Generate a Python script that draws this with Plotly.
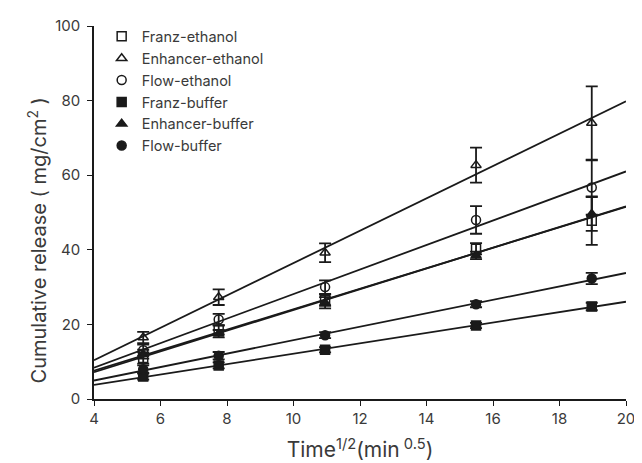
import numpy as np
import plotly.graph_objects as go

# Data
time_sqrt = [5.48, 7.75, 10.95, 15.49, 18.97]

names = ["Franz-ethanol", "Enhancer-ethanol", "Flow-ethanol",
         "Franz-buffer", "Enhancer-buffer", "Flow-buffer"]
symbols = ["square-open", "triangle-up-open", "circle-open",
           "square", "triangle-up", "circle"]

franz_ethanol = [11.0, 18.5, 26.5, 40.3, 47.8]
franz_ethanol_err = [1.5, 1.2, 1.5, 1.5, 6.5]
enhancer_ethanol = [16.5, 27.3, 39.2, 62.7, 74.0]
enhancer_ethanol_err = [1.5, 2.1, 2.5, 4.7, 9.8]
flow_ethanol = [13.1, 21.3, 30.0, 48.0, 56.7]
flow_ethanol_err = [1.5, 1.5, 1.8, 3.7, 7.3]
franz_buffer = [6.0, 9.0, 13.2, 19.7, 24.8]
franz_buffer_err = [0.8, 0.8, 0.7, 0.7, 1.0]
enhancer_buffer = [12.0, 17.5, 25.8, 38.5, 49.6]
enhancer_buffer_err = [1.2, 1.0, 1.5, 1.0, 4.5]
flow_buffer = [8.0, 11.6, 17.1, 25.4, 32.3]
flow_buffer_err = [1.0, 1.0, 0.8, 0.8, 1.5]

series = [franz_ethanol, enhancer_ethanol, flow_ethanol,
          franz_buffer, enhancer_buffer, flow_buffer]
errors = [franz_ethanol_err, enhancer_ethanol_err, flow_ethanol_err,
          franz_buffer_err, enhancer_buffer_err, flow_buffer_err]

x_ticks = [4, 6, 8, 10, 12, 14, 16, 18, 20]
y_ticks = [0, 20, 40, 60, 80, 100]

x_title = "Time<sup>1/2</sup>(min<sup> 0.5</sup>)"
y_title = "Cumulative release ( mg/cm<sup>2</sup> )"

ink = "#1a1a1a"
text_col = "#3a3a3a"
font_family = "Inter, Liberation Sans, Arial, sans-serif"

fig = go.Figure()

line_x = np.array([4.0, 20.0])
for ys in series:
    slope, intercept = np.polyfit(time_sqrt, ys, 1)
    fig.add_trace(go.Scatter(
        x=line_x, y=slope * line_x + intercept, mode="lines",
        line=dict(color=ink, width=1.8), showlegend=False,
        hoverinfo="skip"))

for name, sym, ys, err in zip(names, symbols, series, errors):
    fig.add_trace(go.Scatter(
        x=time_sqrt, y=ys, mode="markers", name=name,
        marker=dict(symbol=sym, size=9, color=ink,
                    line=dict(color=ink, width=1.5)),
        error_y=dict(type="data", array=err, visible=True,
                     color=ink, thickness=1.8, width=6)))

axis_common = dict(
    showline=True, linecolor=ink, linewidth=1.5,
    ticks="outside", ticklen=5, tickwidth=1.2, tickcolor=ink,
    showgrid=False, zeroline=False, mirror=False, automargin=False,
    tickfont=dict(family=font_family, size=15, color=text_col),
)

fig.update_layout(
    width=634, height=455,
    margin=dict(l=86, r=16, t=15, b=64),
    paper_bgcolor="white", plot_bgcolor="white",
    font=dict(family=font_family, color=text_col),
    xaxis=dict(range=[4, 20], tickvals=x_ticks,
               title=dict(text=x_title,
                          font=dict(family=font_family, size=21, color=text_col),
                          standoff=16),
               **axis_common),
    yaxis=dict(range=[0, 100], tickvals=y_ticks, ticklabelstandoff=4,
               **axis_common),
    legend=dict(x=0.0144, y=1.015, xanchor="left", yanchor="top",
                bgcolor="rgba(0,0,0,0)",
                font=dict(family=font_family, size=14.5, color=text_col),
                tracegroupgap=0, itemwidth=30),
    annotations=[dict(text=y_title, textangle=-90, xref="paper", yref="paper",
                      x=-0.106, y=0.424, xanchor="center", yanchor="middle",
                      showarrow=False,
                      font=dict(family=font_family, size=20, color=text_col))],
)

fig.write_html("out.html")
